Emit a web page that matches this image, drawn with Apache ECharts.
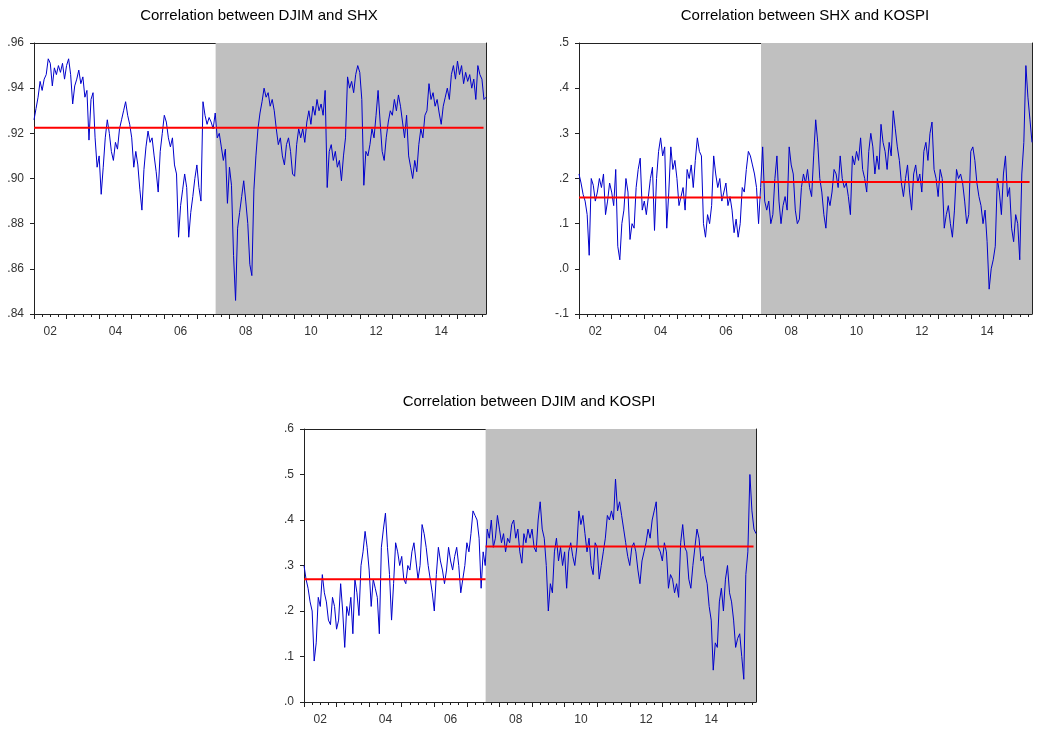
<!DOCTYPE html>
<html>
<head>
<meta charset="utf-8">
<script src="https://cdn.jsdelivr.net/npm/echarts@6/dist/echarts.min.js"></script>
<style>html,body{margin:0;padding:0;background:#fff}#c{width:1039px;height:730px}</style>
</head>
<body>
<div id="c"></div>
<script>
// time axis: first observation 2002.0, one value every 1/16 year
const START_YEAR = 2002;
const STEP = 1 / 16;
const AXIS_END = 2015.875;
const BREAK_YEAR = 2007.575;   // start of shaded sub-period
const MEAN_END = 2015.8;

const yearTicks = [2002,2003,2004,2005,2006,2007,2008,2009,2010,2011,2012,2013,2014,2015];
const yearLabels = [2002.5,2004.5,2006.5,2008.5,2010.5,2012.5,2014.5];

const titles = ['Correlation between DJIM and SHX','Correlation between SHX and KOSPI','Correlation between DJIM and KOSPI'];

const djimShx = [
 .926,.931,.936,.943,.939,.944,.946,.953,.951,.941,.949,.946,.950,.947,.951,.944,
 .950,.953,.946,.933,.941,.944,.948,.942,.945,.936,.939,.917,.935,.938,.918,.905,
 .910,.893,.905,.918,.926,.920,.912,.908,.916,.913,.922,.926,.930,.934,.928,.924,
 .918,.905,.912,.906,.895,.886,.904,.914,.921,.916,.918,.910,.903,.894,.912,.920,
 .928,.925,.918,.914,.918,.906,.902,.874,.888,.895,.902,.896,.874,.885,.892,.900,
 .906,.896,.890,.934,.928,.924,.927,.925,.922,.929,.918,.920,.914,.908,.913,.889,
 .905,.897,.866,.846,.878,.885,.892,.899,.890,.880,.862,.857,.895,.910,.922,.929,
 .934,.940,.936,.938,.932,.935,.930,.922,.915,.918,.910,.906,.915,.918,.912,.902,
 .901,.915,.922,.918,.922,.916,.925,.930,.924,.932,.928,.935,.930,.933,.928,.939,
 .896,.912,.915,.908,.912,.905,.908,.899,.910,.918,.945,.940,.943,.938,.946,.950,
 .947,.935,.897,.912,.910,.915,.922,.918,.928,.939,.925,.912,.908,.918,.925,.930,
 .928,.935,.930,.937,.932,.925,.918,.928,.910,.905,.900,.908,.903,.915,.922,.918,
 .928,.930,.942,.935,.938,.932,.935,.929,.924,.932,.936,.940,.935,.946,.950,.944,
 .952,.946,.950,.942,.947,.943,.946,.940,.944,.935,.950,.946,.944,.935,.936
];
const shxKospi = [
 .21,.19,.165,.15,.12,.03,.20,.185,.15,.17,.20,.18,.21,.12,.15,.19,
 .17,.14,.22,.05,.02,.10,.13,.20,.17,.065,.10,.09,.18,.22,.245,.13,
 .15,.12,.16,.20,.225,.085,.20,.26,.29,.25,.27,.09,.17,.27,.22,.24,
 .20,.14,.16,.18,.13,.22,.20,.23,.18,.24,.29,.26,.25,.10,.07,.12,
 .10,.14,.25,.21,.18,.20,.15,.17,.19,.14,.16,.13,.08,.11,.07,.10,
 .18,.17,.22,.26,.25,.23,.21,.18,.10,.18,.27,.15,.13,.15,.10,.12,
 .20,.25,.15,.10,.14,.16,.13,.27,.23,.21,.13,.10,.11,.18,.21,.19,
 .22,.18,.16,.25,.33,.28,.20,.17,.12,.09,.16,.14,.17,.22,.21,.18,
 .25,.20,.18,.19,.16,.12,.25,.23,.26,.24,.29,.22,.20,.17,.26,.30,
 .27,.21,.25,.22,.32,.28,.26,.22,.28,.25,.35,.31,.27,.24,.19,.16,
 .20,.23,.17,.13,.21,.23,.19,.21,.17,.26,.28,.24,.30,.325,.22,.20,
 .16,.22,.20,.09,.12,.14,.10,.07,.13,.22,.20,.21,.19,.15,.10,.12,
 .26,.27,.24,.19,.16,.14,.10,.13,.06,-.045,.00,.02,.05,.20,.17,.12,
 .21,.25,.16,.18,.09,.06,.12,.10,.02,.21,.28,.45,.38,.33,.28
];
const djimKospi = [
 .30,.27,.25,.22,.20,.09,.13,.23,.21,.28,.24,.22,.18,.17,.23,.21,
 .16,.18,.26,.20,.12,.21,.19,.23,.15,.27,.24,.19,.30,.33,.375,.34,
 .29,.21,.27,.25,.23,.15,.34,.38,.415,.34,.28,.18,.26,.35,.33,.30,
 .32,.27,.26,.30,.29,.33,.35,.31,.27,.30,.39,.37,.34,.30,.27,.24,
 .20,.28,.34,.31,.29,.26,.29,.34,.31,.29,.32,.34,.30,.24,.27,.30,
 .35,.33,.37,.42,.41,.40,.36,.25,.33,.30,.38,.36,.40,.34,.36,.41,
 .38,.35,.37,.33,.36,.35,.39,.40,.36,.38,.33,.305,.37,.35,.38,.36,
 .38,.34,.33,.40,.44,.38,.36,.30,.20,.26,.24,.33,.36,.31,.34,.30,
 .33,.25,.33,.35,.32,.30,.34,.42,.39,.41,.37,.33,.36,.30,.28,.35,
 .34,.27,.30,.33,.36,.41,.40,.42,.40,.49,.42,.44,.41,.38,.35,.32,
 .30,.34,.35,.33,.29,.26,.31,.33,.35,.38,.36,.40,.42,.44,.34,.33,
 .31,.35,.33,.25,.28,.27,.24,.26,.23,.35,.39,.34,.33,.27,.25,.30,
 .34,.38,.36,.31,.32,.28,.26,.21,.18,.07,.13,.12,.22,.25,.20,.27,
 .30,.24,.22,.18,.12,.14,.15,.10,.05,.28,.33,.50,.42,.38,.37
];
// sub-period means (red lines)
const meansDjimShx = [0.9225, 0.9225];
const meansShxKospi = [0.158, 0.192];
const meansDjimKospi = [0.270, 0.342];

const yRanges = [
  {min: 0.84, max: 0.96, interval: 0.02, dec: 2},
  {min: -0.1, max: 0.5, interval: 0.1, dec: 1},
  {min: 0.0, max: 0.6, interval: 0.1, dec: 1}
];

const quarterTicks = [];
for (let y = 2002; y < 2016; y++) { [0.25,0.5,0.75].forEach(q => { if (y + q < AXIS_END) quarterTicks.push(y + q); }); }

const FONT = 'Liberation Sans, Arial, sans-serif';
const grids = [
  {left: 34, top: 43, width: 452, height: 271},
  {left: 579, top: 43, width: 453, height: 271},
  {left: 304, top: 429, width: 452, height: 273}
];
const titlePos = [{x: 254, y: 3}, {x: 800, y: 3}, {x: 524, y: 389}];
const panels = [
  {vals: djimShx, means: meansDjimShx},
  {vals: shxKospi, means: meansShxKospi},
  {vals: djimKospi, means: meansDjimKospi}
];

const fmtY = dec => v => {
  let s = Number(v).toFixed(dec);
  return s.replace('-0.', '-.').replace(/^0\./, '.');
};

const option = {
  animation: false,
  backgroundColor: '#fff',
  title: titles.map((t, k) => ({
    text: t, left: titlePos[k].x, top: titlePos[k].y, textAlign: 'center',
    textStyle: {fontFamily: FONT, fontSize: 15, fontWeight: 'normal', color: '#000'}
  })),
  grid: grids.map(g => Object.assign({containLabel: false, show: true, backgroundColor: '#fff', borderWidth: 0}, g)),
  xAxis: [],
  yAxis: [],
  series: []
};

panels.forEach((p, k) => {
  option.xAxis.push({
    type: 'value', gridIndex: k, min: START_YEAR, max: AXIS_END, position: 'bottom',
    axisLine: {show: true, onZero: false, lineStyle: {color: '#222', width: 1}},
    axisTick: {show: true, customValues: yearTicks, length: 5, lineStyle: {color: '#222'}},
    axisLabel: {show: true, customValues: yearLabels, margin: 12, fontFamily: FONT, fontSize: 12, color: '#333',
      formatter: v => String(Math.floor(v) % 100).padStart(2, '0')},
    splitLine: {show: false}
  });
  option.xAxis.push({
    type: 'value', gridIndex: k, min: START_YEAR, max: AXIS_END, position: 'bottom',
    axisLine: {show: false, onZero: false},
    axisTick: {show: true, customValues: quarterTicks, length: 3, lineStyle: {color: '#222'}},
    axisLabel: {show: false}, splitLine: {show: false}
  });
  option.xAxis.push({
    type: 'value', gridIndex: k, min: START_YEAR, max: AXIS_END, position: 'top',
    axisLine: {show: true, onZero: false, lineStyle: {color: '#222', width: 1}},
    axisTick: {show: false}, axisLabel: {show: false}, splitLine: {show: false}
  });
  const yr = yRanges[k];
  option.yAxis.push({
    type: 'value', gridIndex: k, min: yr.min, max: yr.max, interval: yr.interval, position: 'left',
    axisLine: {show: true, onZero: false, lineStyle: {color: '#222', width: 1}},
    axisTick: {show: true, length: 4, lineStyle: {color: '#222'}},
    axisLabel: {show: true, margin: 10, fontFamily: FONT, fontSize: 12, color: '#333', formatter: fmtY(yr.dec)},
    splitLine: {show: false}
  });
  option.yAxis.push({
    type: 'value', gridIndex: k, min: yr.min, max: yr.max, interval: yr.interval, position: 'right',
    axisLine: {show: true, onZero: false, lineStyle: {color: '#222', width: 1}},
    axisTick: {show: false}, axisLabel: {show: false}, splitLine: {show: false}
  });
  const xi = k * 3, yi = k * 2;
  option.series.push({
    type: 'line', xAxisIndex: xi, yAxisIndex: yi, data: [], silent: true, z: 1,
    markArea: {silent: true, itemStyle: {color: '#c0c0c0'},
      data: [[{xAxis: BREAK_YEAR, yAxis: yr.min}, {xAxis: AXIS_END, yAxis: yr.max}]]}
  });
  option.series.push({
    type: 'line', xAxisIndex: xi, yAxisIndex: yi, z: 3, showSymbol: false, symbol: 'none',
    lineStyle: {color: '#0000cc', width: 1}, silent: true,
    data: p.vals.map((v, i) => [START_YEAR + i * STEP, v])
  });
  option.series.push({
    type: 'line', xAxisIndex: xi, yAxisIndex: yi, z: 4, symbol: 'none', silent: true,
    lineStyle: {color: '#ff0000', width: 2},
    data: [[START_YEAR, p.means[0]], [BREAK_YEAR, p.means[0]]]
  });
  option.series.push({
    type: 'line', xAxisIndex: xi, yAxisIndex: yi, z: 4, symbol: 'none', silent: true,
    lineStyle: {color: '#ff0000', width: 2},
    data: [[BREAK_YEAR, p.means[1]], [MEAN_END, p.means[1]]]
  });
});

const chart = echarts.init(document.getElementById('c'), null, {renderer: 'canvas'});
chart.setOption(option);
</script>
</body>
</html>
